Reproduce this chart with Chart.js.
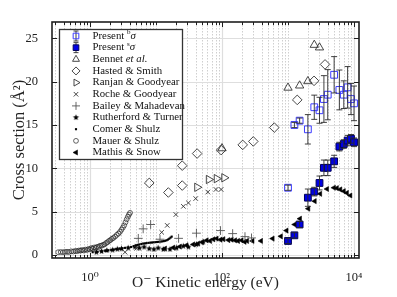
<!DOCTYPE html>
<html>
<head>
<meta charset="utf-8">
<script src="https://cdn.jsdelivr.net/npm/chart.js@4.4.1/dist/chart.umd.min.js"></script>
<style>
html, body { margin: 0; padding: 0; background: #fff; }
</style>
</head>
<body>
<canvas id="grafico" width="397" height="297"></canvas>
<script>
// Datos (energia en eV, seccion en A^2)
const ENERGIA_PRESENTE = [1000, 1250, 1500, 2000, 2500, 3000, 3500, 4000, 5000, 6000, 7000, 8000, 9000, 10000];
const SIGMA_B = [7.75, 15.0, 15.5, 14.5, 17.05, 16.7, 18.0, 18.5, 20.8, 19.05, 18.5, 19.35, 18.0, 17.5];
const ERROR_B = [0.3, 0.3, 0.3, 1.7, 1.4, 1.5, 2.7, 2.9, 2.1, 2.3, 1.6, 2.4, 1.8, 2.0];
const SIGMA_S = [1.6, 2.25, 3.5, 6.6, 7.3, 8.3, 10.05, 10.05, 10.8, 12.5, 12.8, 13.2, 13.4, 13.0];
const ERROR_S = [0.3, 0.3, 0.35, 1.0, 0.5, 0.8, 0.9, 0.9, 0.7, 0.5, 0.5, 0.6, 0.5, 0.5];

const BENNET_E = [100, 1000, 1500, 2000, 2500, 3000];
const BENNET_S = [12.3, 19.3, 19.55, 20.05, 24.25, 23.95];

const HASTED_E = [7.9, 15.4, 25, 25, 42, 97, 206, 298, 620, 1380, 2480, 3640];
const HASTED_S = [8.3, 7.2, 8.0, 10.3, 11.7, 12.1, 12.7, 13.1, 14.7, 17.9, 20.1, 22.0];

const RANJAN_E = [42, 63, 83, 108];
const RANJAN_S = [7.8, 8.7, 8.8, 8.9];

const ROCHE_E = [3.4, 5.1, 12.2, 14.8, 20, 26, 31, 40, 61, 81, 97];
const ROCHE_S = [0.3, 0.75, 2.6, 3.4, 4.65, 5.6, 6.0, 6.5, 7.25, 7.55, 7.55];

const BAILEY_E = [5.4, 6.4, 8.3, 11.5, 22, 41, 95, 145, 223, 280];
const BAILEY_S = [1.9, 3.0, 3.5, 1.8, 1.9, 2.5, 2.8, 2.45, 2.1, 1.95];

const RUTHERFORD_E = [1.25, 1.5, 1.8, 2.2, 2.6, 3.0, 3.8, 4.8, 5.6, 6.6, 7.9, 9.3, 10.8, 12.9, 16.3, 20.5, 26, 31, 41, 52];
const RUTHERFORD_S = [0.3, 0.4, 0.5, 0.55, 0.65, 0.7, 0.78, 0.9, 0.78, 0.9, 0.7, 0.63, 0.78, 0.63, 0.63, 0.78, 1.0, 0.9, 1.18, 1.48];

const COMER_E = [1.1, 1.3, 1.5, 1.7, 1.9, 2.1, 2.3, 2.5, 2.8, 3.1, 3.4, 3.8, 4.2, 4.6,
  5.0, 5.3, 5.6, 6.0, 6.4, 6.8, 7.2, 7.7, 8.2, 8.7, 9.2, 9.8, 10.4, 11.0, 11.7, 12.4, 13.1, 13.8, 14.5, 15.2, 15.9, 16.6, 17.3];
const COMER_S = [0.3, 0.35, 0.4, 0.45, 0.5, 0.55, 0.6, 0.65, 0.7, 0.75, 0.8, 0.85, 0.9, 1.0,
  1.1, 1.15, 1.2, 1.25, 1.3, 1.32, 1.35, 1.38, 1.4, 1.42, 1.44, 1.46, 1.48, 1.5, 1.52, 1.55, 1.58, 1.62, 1.68, 1.76, 1.86, 1.98, 2.1];

const MAUER_E = [0.33, 0.36, 0.39, 0.42, 0.45, 0.48, 0.52, 0.56, 0.6, 0.64, 0.68, 0.72, 0.76, 0.8, 0.85, 0.9, 0.95, 1.0,
  1.05, 1.1, 1.16, 1.22, 1.28, 1.35, 1.42, 1.5, 1.58, 1.66, 1.75, 1.84, 1.94, 2.04, 2.15, 2.26, 2.4, 2.55, 2.7, 2.85,
  3.0, 3.15, 3.3, 3.45, 3.6, 3.75, 3.9, 4.05];
const MAUER_S = [0.3, 0.32, 0.3, 0.33, 0.35, 0.32, 0.4, 0.38, 0.45, 0.42, 0.5, 0.48, 0.55, 0.5, 0.6, 0.55, 0.68, 0.62,
  0.78, 0.72, 0.85, 0.8, 0.92, 0.9, 1.05, 1.05, 1.15, 1.2, 1.35, 1.45, 1.6, 1.7, 1.85, 1.95, 2.1, 2.3, 2.45, 2.65,
  2.9, 3.15, 3.4, 3.75, 4.1, 4.4, 4.65, 4.85];

const MATHIS_E = [13.7, 18.3, 23, 29, 36.7, 43.6, 50, 58.6, 66, 74, 83, 95, 105, 125, 140, 158, 175, 198, 220, 240, 290, 390,
  585, 780, 950, 1260, 1520, 2030, 2540, 3070, 3900, 4960, 5500, 6200, 7000, 7800, 8800];
const MATHIS_S = [0.72, 0.83, 0.95, 1.1, 1.2, 1.3, 1.45, 1.67, 1.6, 1.79, 1.87, 1.75, 1.8, 1.7, 1.75, 1.67, 1.6, 1.67, 1.5, 1.6, 1.6, 1.6,
  1.87, 2.13, 2.8, 3.5, 4.17, 5.33, 6.2, 7.05, 7.6, 7.75, 7.7, 7.55, 7.35, 7.15, 6.85];

// Ejes
const X_ETIQUETAS = [1, 100, 10000];
const Y_TICKS = [0, 5, 10, 15, 20, 25];
const X_MIN = 0.266, X_MAX = 11900;
const Y_MIN = -0.37, Y_MAX = 26.9;

const FUENTE = "'Liberation Serif', 'DejaVu Serif', serif";

// marcas menores del eje logaritmico
var xMenores = [];
for (var d = -1; d <= 4; d++) {
    for (var m = 1; m <= 9; m++) {
        var v = m * Math.pow(10, d);
        if (v >= X_MIN && v <= X_MAX) xMenores.push(v);
    }
}

function puntos(xs, ys) {
    return xs.map(function (x, i) { return { x: x, y: ys[i] }; });
}

// estrella rellena para Rutherford & Turner
function crearEstrella(r) {
    var c = document.createElement('canvas');
    c.width = Math.ceil(r * 2 + 2);
    c.height = Math.ceil(r * 2 + 2);
    var g = c.getContext('2d');
    var cx = c.width / 2, cy = c.height / 2;
    g.beginPath();
    for (var i = 0; i < 10; i++) {
        var rad = (i % 2 === 0) ? r : r * 0.45;
        var a = -Math.PI / 2 + i * Math.PI / 5;
        g.lineTo(cx + rad * Math.cos(a), cy + rad * Math.sin(a));
    }
    g.closePath();
    g.fillStyle = '#000';
    g.fill();
    return c;
}
var estrella = crearEstrella(3.2);

const HUECO = 'rgba(0,0,0,0)';

var datasets = [
    { label: 'Present b', data: puntos(ENERGIA_PRESENTE, SIGMA_B), pointStyle: 'rect', pointRadius: 4.8,
      borderColor: '#3b3bff', backgroundColor: HUECO, borderWidth: 1 },
    { label: 'Present s', data: puntos(ENERGIA_PRESENTE, SIGMA_S), pointStyle: 'rect', pointRadius: 4.8,
      borderColor: '#00005a', backgroundColor: '#0000e6', borderWidth: 1 },
    { label: 'Bennet et al.', data: puntos(BENNET_E, BENNET_S), pointStyle: 'triangle', pointRadius: 4.8,
      borderColor: '#333', backgroundColor: HUECO, borderWidth: 0.9 },
    { label: 'Hasted & Smith', data: puntos(HASTED_E, HASTED_S), pointStyle: 'rectRot', pointRadius: 4.8,
      borderColor: '#333', backgroundColor: HUECO, borderWidth: 0.9 },
    { label: 'Ranjan & Goodyear', data: puntos(RANJAN_E, RANJAN_S), pointStyle: 'triangle', rotation: 90, pointRadius: 4.8,
      borderColor: '#333', backgroundColor: HUECO, borderWidth: 0.9 },
    { label: 'Roche & Goodyear', data: puntos(ROCHE_E, ROCHE_S), pointStyle: 'crossRot', pointRadius: 3.2,
      borderColor: '#333', backgroundColor: HUECO, borderWidth: 0.9 },
    { label: 'Bailey & Mahadevan', data: puntos(BAILEY_E, BAILEY_S), pointStyle: 'cross', pointRadius: 4.4,
      borderColor: '#555', backgroundColor: HUECO, borderWidth: 0.9 },
    { label: 'Rutherford & Turner', data: puntos(RUTHERFORD_E, RUTHERFORD_S), pointStyle: estrella, pointRadius: 3,
      borderColor: '#000', backgroundColor: '#000', borderWidth: 0 },
    { label: 'Comer & Shulz', data: puntos(COMER_E, COMER_S), pointStyle: 'rect', pointRadius: 1.5,
      borderColor: '#000', backgroundColor: '#000', borderWidth: 0 },
    { label: 'Mauer & Shulz', data: puntos(MAUER_E, MAUER_S), pointStyle: 'circle', pointRadius: 2.4,
      borderColor: '#222', backgroundColor: HUECO, borderWidth: 0.7 },
    { label: 'Mathis & Snow', data: puntos(MATHIS_E, MATHIS_S), pointStyle: 'triangle', rotation: -90, pointRadius: 3,
      borderColor: '#000', backgroundColor: '#000', borderWidth: 0.5 }
];
datasets.forEach(function (ds) {
    ds.showLine = false;
    ds.pointRotation = ds.rotation || 0;
    ds.pointBorderWidth = ds.borderWidth;
});

// rejilla: punteada para las decadas menores, gris continua en las mayores
var rejilla = {
    id: 'rejilla',
    beforeDatasetsDraw: function (chart) {
        var ctx = chart.ctx, a = chart.chartArea;
        var sx = chart.scales.x, sy = chart.scales.y;
        ctx.save();
        ctx.lineWidth = 1;
        ctx.strokeStyle = '#cfcfcf';
        ctx.setLineDash([1.5, 1.5]);
        xMenores.forEach(function (v) {
            if (X_ETIQUETAS.indexOf(v) >= 0) return;
            var px = Math.round(sx.getPixelForValue(v)) + 0.5;
            ctx.beginPath(); ctx.moveTo(px, a.top); ctx.lineTo(px, a.bottom); ctx.stroke();
        });
        ctx.setLineDash([]);
        ctx.strokeStyle = '#dedede';
        ctx.lineWidth = 1.2;
        X_ETIQUETAS.forEach(function (v) {
            var px = Math.round(sx.getPixelForValue(v)) + 0.5;
            ctx.beginPath(); ctx.moveTo(px, a.top); ctx.lineTo(px, a.bottom); ctx.stroke();
        });
        Y_TICKS.forEach(function (v) {
            var py = Math.round(sy.getPixelForValue(v)) + 0.5;
            ctx.beginPath(); ctx.moveTo(a.left, py); ctx.lineTo(a.right, py); ctx.stroke();
        });
        ctx.restore();
    }
};

// barras de error de las medidas propias
var barrasError = {
    id: 'barrasError',
    afterDatasetsDraw: function (chart) {
        var ctx = chart.ctx, sx = chart.scales.x, sy = chart.scales.y;
        ctx.save();
        ctx.strokeStyle = '#2a2a2a';
        ctx.lineWidth = 0.9;
        [[SIGMA_B, ERROR_B], [SIGMA_S, ERROR_S]].forEach(function (par) {
            ENERGIA_PRESENTE.forEach(function (e, i) {
                var px = sx.getPixelForValue(e);
                var y1 = sy.getPixelForValue(par[0][i] + par[1][i]);
                var y2 = sy.getPixelForValue(par[0][i] - par[1][i]);
                ctx.beginPath();
                ctx.moveTo(px, y1); ctx.lineTo(px, y2);
                ctx.moveTo(px - 3, y1); ctx.lineTo(px + 3, y1);
                ctx.moveTo(px - 3, y2); ctx.lineTo(px + 3, y2);
                ctx.stroke();
            });
        });
        ctx.restore();
    }
};

// marco con marcas hacia dentro y leyenda
var marco = {
    id: 'marco',
    afterDraw: function (chart) {
        var ctx = chart.ctx, a = chart.chartArea;
        var sx = chart.scales.x, sy = chart.scales.y;
        ctx.save();
        ctx.strokeStyle = '#1e1e1e';
        ctx.lineWidth = 1;
        xMenores.forEach(function (v) {
            var px = Math.round(sx.getPixelForValue(v)) + 0.5;
            var largo = X_ETIQUETAS.indexOf(v) >= 0 ? 5 : 3;
            ctx.beginPath();
            ctx.moveTo(px, a.bottom); ctx.lineTo(px, a.bottom - largo);
            ctx.moveTo(px, a.top); ctx.lineTo(px, a.top + largo);
            ctx.stroke();
        });
        Y_TICKS.forEach(function (v) {
            var py = Math.round(sy.getPixelForValue(v)) + 0.5;
            ctx.beginPath();
            ctx.moveTo(a.left, py); ctx.lineTo(a.left + 5, py);
            ctx.moveTo(a.right, py); ctx.lineTo(a.right - 5, py);
            ctx.stroke();
        });
        ctx.lineWidth = 1.6;
        ctx.strokeRect(a.left, a.top, a.right - a.left, a.bottom - a.top);

        // leyenda
        var bx = 59.5, by = 29.5, bw = 123, bh = 130;
        ctx.fillStyle = '#fff';
        ctx.fillRect(bx, by, bw, bh);
        ctx.strokeStyle = '#333';
        ctx.lineWidth = 1.3;
        ctx.strokeRect(bx, by, bw, bh);

        var textos = [
            [{ t: 'Present ' }, { t: 'b', s: 7, dy: -3.5 }, { t: 'σ', it: true }],
            [{ t: 'Present ' }, { t: 's', s: 7, dy: -3.5 }, { t: 'σ', it: true }],
            [{ t: 'Bennet ' }, { t: 'et al.', it: true }],
            [{ t: 'Hasted & Smith' }],
            [{ t: 'Ranjan & Goodyear' }],
            [{ t: 'Roche & Goodyear' }],
            [{ t: 'Bailey & Mahadevan' }],
            [{ t: 'Rutherford & Turner' }],
            [{ t: 'Comer & Shulz' }],
            [{ t: 'Mauer & Shulz' }],
            [{ t: 'Mathis & Snow' }]
        ];
        ctx.textBaseline = 'middle';
        textos.forEach(function (partes, i) {
            var yy = 36 + i * 11.65;
            var ds = chart.data.datasets[i];
            var radio = Math.min(ds.pointRadius, 4);
            if (i < 2) {
                ctx.strokeStyle = '#2a2a2a';
                ctx.lineWidth = 0.9;
                ctx.beginPath();
                ctx.moveTo(76, yy - 5); ctx.lineTo(76, yy + 5);
                ctx.moveTo(73.5, yy - 5); ctx.lineTo(78.5, yy - 5);
                ctx.moveTo(73.5, yy + 5); ctx.lineTo(78.5, yy + 5);
                ctx.stroke();
            }
            ctx.strokeStyle = ds.borderColor;
            ctx.fillStyle = ds.backgroundColor;
            ctx.lineWidth = ds.borderWidth;
            Chart.helpers.drawPoint(ctx, {
                pointStyle: ds.pointStyle, rotation: ds.rotation || 0,
                radius: radio, borderWidth: ds.borderWidth
            }, 76, yy);
            var xx = 92.5;
            ctx.fillStyle = '#111';
            partes.forEach(function (p) {
                ctx.font = (p.it ? 'italic ' : '') + (p.s || 10.8) + 'px ' + FUENTE;
                ctx.fillText(p.t, xx, yy + (p.dy || 0));
                xx += ctx.measureText(p.t).width;
            });
        });
        ctx.restore();
    }
};

function etiquetaX(valor) {
    var sup = { '0': '⁰', '2': '²', '4': '⁴' };
    if (X_ETIQUETAS.indexOf(valor) < 0) return '';
    var e = String(Math.round(Math.log10(valor)));
    return '10' + sup[e];
}

new Chart(document.getElementById('grafico').getContext('2d'), {
    type: 'scatter',
    data: { datasets: datasets },
    options: {
        responsive: false,
        animation: false,
        events: [],
        devicePixelRatio: 1,
        layout: { padding: { top: 22, right: 38, left: 0, bottom: 0 } },
        plugins: {
            legend: { display: false },
            tooltip: { enabled: false }
        },
        scales: {
            x: {
                type: 'logarithmic',
                min: X_MIN,
                max: X_MAX,
                grid: { display: false },
                border: { display: false },
                afterBuildTicks: function (s) { s.ticks = X_ETIQUETAS.map(function (v) { return { value: v }; }); },
                afterFit: function (s) { s.height = 39; },
                ticks: {
                    autoSkip: false, maxRotation: 0, padding: 4, color: '#222',
                    font: { family: FUENTE, size: 12.5 },
                    callback: function (v) { return etiquetaX(v); }
                },
                title: {
                    display: true, text: 'O⁻ Kinetic energy (eV)', color: '#222',
                    font: { family: FUENTE, size: 15.5 },
                    padding: { top: 4.5, bottom: 4.5 }
                }
            },
            y: {
                type: 'linear',
                min: Y_MIN,
                max: Y_MAX,
                grid: { display: false },
                border: { display: false },
                afterBuildTicks: function (s) { s.ticks = Y_TICKS.map(function (v) { return { value: v }; }); },
                afterFit: function (s) { s.width = 52; },
                ticks: {
                    padding: 6, color: '#222',
                    font: { family: FUENTE, size: 12.5 }
                },
                title: {
                    display: true, text: 'Cross section (Å²)', color: '#222',
                    font: { family: FUENTE, size: 16.5 },
                    padding: { top: 10, bottom: 10 }
                }
            }
        }
    },
    plugins: [rejilla, barrasError, marco]
});
</script>
</body>
</html>
